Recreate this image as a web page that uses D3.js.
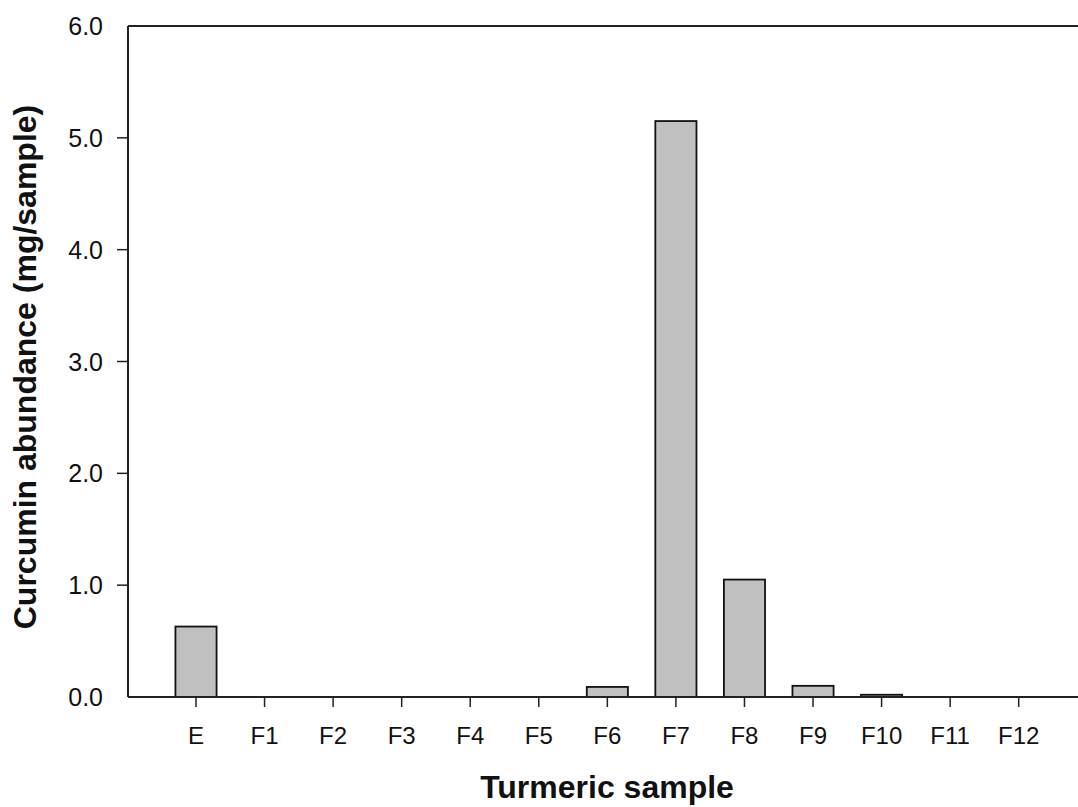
<!DOCTYPE html>
<html>
<head>
<meta charset="utf-8">
<script src="https://d3js.org/d3.v7.min.js"></script>
<style>
  body { margin: 0; background: #fff; }
  text { font-family: Arial, "Liberation Sans", sans-serif; fill: #111; }
</style>
</head>
<body>
<div id="chart"></div>
<script>
var samples = ["E", "F1", "F2", "F3", "F4", "F5", "F6", "F7", "F8", "F9", "F10", "F11", "F12"];
var abundance = [0.63, 0, 0, 0, 0, 0, 0.09, 5.15, 1.05, 0.10, 0.02, 0, 0];
var yTicks = [0, 1, 2, 3, 4, 5, 6];

var width = 1078, height = 807;
var margin = {top: 26, left: 128, bottom: 110};

var svg = d3.select("#chart").append("svg")
    .attr("width", width)
    .attr("height", height);

var x = d3.scalePoint().domain(samples).range([196, 1018.7]);
var y = d3.scaleLinear().domain([0, 6]).range([height - margin.bottom, margin.top]);
var bw = x.step() * 0.6;

var data = samples.map(function(s, i) { return {name: s, value: abundance[i]}; });

// bars
svg.selectAll("rect.bar")
    .data(data.filter(function(d) { return d.value > 0; }))
  .enter().append("rect")
    .attr("class", "bar")
    .attr("x", function(d) { return x(d.name) - bw / 2; })
    .attr("y", function(d) { return y(d.value); })
    .attr("width", bw)
    .attr("height", function(d) { return y(0) - y(d.value); })
    .style("fill", "#c0c0c0")
    .style("stroke", "#111")
    .style("stroke-width", 1.8);

// frame: left and top lines, bottom axis
svg.append("line")
    .attr("x1", margin.left).attr("x2", margin.left)
    .attr("y1", y(6)).attr("y2", y(0))
    .style("stroke", "#222").style("stroke-width", 2);
svg.append("line")
    .attr("x1", margin.left).attr("x2", width)
    .attr("y1", y(6)).attr("y2", y(6))
    .style("stroke", "#222").style("stroke-width", 2);
svg.append("line")
    .attr("x1", margin.left).attr("x2", width)
    .attr("y1", y(0)).attr("y2", y(0))
    .style("stroke", "#222").style("stroke-width", 2);

// x ticks
var xg = svg.append("g");
xg.selectAll("line")
    .data(samples)
  .enter().append("line")
    .attr("x1", function(d) { return x(d); })
    .attr("x2", function(d) { return x(d); })
    .attr("y1", y(0))
    .attr("y2", y(0) + 10)
    .style("stroke", "#222").style("stroke-width", 1.5);
xg.selectAll("text")
    .data(samples)
  .enter().append("text")
    .attr("x", function(d) { return x(d); })
    .attr("y", 744)
    .attr("text-anchor", "middle")
    .style("font-size", "24px")
    .text(function(d) { return d; });

// y ticks (inner ones only, as in the original)
svg.selectAll("line.ytick")
    .data(yTicks.slice(1, -1))
  .enter().append("line")
    .attr("class", "ytick")
    .attr("x1", margin.left - 11)
    .attr("x2", margin.left)
    .attr("y1", function(d) { return y(d); })
    .attr("y2", function(d) { return y(d); })
    .style("stroke", "#222").style("stroke-width", 1.5);

svg.selectAll("text.ylab")
    .data(yTicks)
  .enter().append("text")
    .attr("class", "ylab")
    .attr("x", 103)
    .attr("y", function(d) { return y(d) + 9; })
    .attr("text-anchor", "end")
    .style("font-size", "25px")
    .text(function(d) { return d.toFixed(1); });

// axis titles
svg.append("text")
    .attr("x", 607)
    .attr("y", 798)
    .attr("text-anchor", "middle")
    .style("font-size", "32px")
    .style("font-weight", "bold")
    .text("Turmeric sample");

svg.append("text")
    .attr("transform", "translate(36," + 367 + ") rotate(-90)")
    .attr("text-anchor", "middle")
    .style("font-size", "32px")
    .style("font-weight", "bold")
    .text("Curcumin abundance (mg/sample)");
</script>
</body>
</html>
